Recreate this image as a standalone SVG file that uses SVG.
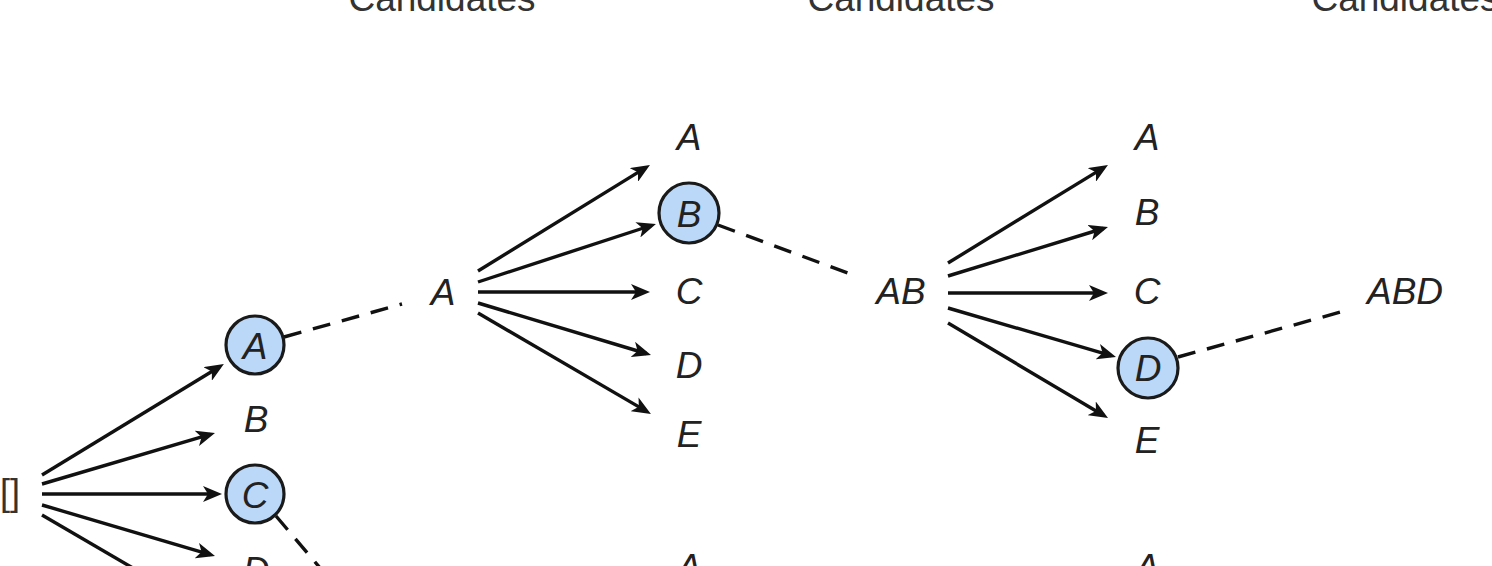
<svg xmlns="http://www.w3.org/2000/svg" width="1492" height="566" viewBox="0 0 1492 566">
<defs>
<style>
.hdr{font-family:"Liberation Sans",Arial,sans-serif;font-size:37px;fill:#333;text-anchor:middle}
.lbl{font-family:"Liberation Sans",Arial,sans-serif;font-size:37px;font-style:italic;fill:#222;text-anchor:middle}
.root{font-family:"Liberation Sans",Arial,sans-serif;font-size:36px;fill:#333}
.sel{fill:#BBD8F8;stroke:#1a1a1a;stroke-width:3.2}
.arr{stroke:#111;stroke-width:3.4;fill:none;marker-end:url(#ah)}
.dash{stroke:#111;stroke-width:3.4;fill:none;stroke-dasharray:18 12}
</style>
<marker id="ah" markerWidth="22" markerHeight="16" refX="14" refY="8" orient="auto" markerUnits="userSpaceOnUse">
<path d="M0,0 L19,8 L0,16 L5,8 z" fill="#111"/>
</marker>
</defs>
<rect width="1492" height="566" fill="#fff"/>
<g id="headers">
<text class="hdr" x="442" y="11">Candidates</text>
<text class="hdr" x="901" y="11">Candidates</text>
<text class="hdr" x="1405" y="11">Candidates</text>
</g>
<g id="connectors">
<line class="arr" x1="42" y1="475" x2="219.6" y2="366.7"/>
<line class="arr" x1="42" y1="484" x2="210.2" y2="434.4"/>
<line class="arr" x1="42" y1="494" x2="217" y2="494"/>
<line class="arr" x1="42" y1="505" x2="210.2" y2="554.6"/>
<line class="arr" x1="42" y1="515" x2="210" y2="613"/>
<line class="arr" x1="478" y1="271" x2="645.7" y2="167.6"/>
<line class="arr" x1="478" y1="282" x2="651.2" y2="225.5"/>
<line class="arr" x1="478" y1="292" x2="645" y2="292"/>
<line class="arr" x1="478" y1="303" x2="646.2" y2="353.5"/>
<line class="arr" x1="478" y1="313" x2="646.6" y2="411.4"/>
<line class="arr" x1="948" y1="263" x2="1103.7" y2="167.6"/>
<line class="arr" x1="948" y1="276" x2="1103.2" y2="228.5"/>
<line class="arr" x1="948" y1="293" x2="1103" y2="293"/>
<line class="arr" x1="948" y1="308" x2="1111.2" y2="355.6"/>
<line class="arr" x1="948" y1="323" x2="1103.7" y2="415.5"/>
<line class="dash" x1="284" y1="337" x2="402" y2="304"/>
<line class="dash" x1="276" y1="516" x2="332" y2="582"/>
<line class="dash" x1="718" y1="225" x2="853" y2="275"/>
<line class="dash" x1="1178" y1="357" x2="1348" y2="310"/>
</g>
<g id="root"><text class="root" x="0" y="505">[]</text></g>
<g id="l1-A"><circle class="sel" cx="255" cy="345" r="29"/><text class="lbl" x="255" y="359">A</text></g>
<g id="l1-B"><text class="lbl" x="256" y="432">B</text></g>
<g id="l1-C"><circle class="sel" cx="255" cy="494" r="29"/><text class="lbl" x="255" y="508">C</text></g>
<g id="l1-D"><text class="lbl" x="256" y="583">D</text></g>
<g id="p-A"><text class="lbl" x="443" y="305">A</text></g>
<g id="l2-A"><text class="lbl" x="689" y="150">A</text></g>
<g id="l2-B"><circle class="sel" cx="689" cy="213" r="30"/><text class="lbl" x="689" y="227">B</text></g>
<g id="l2-C"><text class="lbl" x="689" y="304">C</text></g>
<g id="l2-D"><text class="lbl" x="689" y="378">D</text></g>
<g id="l2-E"><text class="lbl" x="689" y="447">E</text></g>
<g id="l2b-A"><text class="lbl" x="689" y="580">A</text></g>
<g id="p-AB"><text class="lbl" x="901" y="304">AB</text></g>
<g id="l3-A"><text class="lbl" x="1147" y="150">A</text></g>
<g id="l3-B"><text class="lbl" x="1147" y="225">B</text></g>
<g id="l3-C"><text class="lbl" x="1147" y="304">C</text></g>
<g id="l3-D"><circle class="sel" cx="1148" cy="368" r="30"/><text class="lbl" x="1148" y="381">D</text></g>
<g id="l3-E"><text class="lbl" x="1147" y="453">E</text></g>
<g id="l3b-A"><text class="lbl" x="1147" y="580">A</text></g>
<g id="p-ABD"><text class="lbl" x="1405" y="304">ABD</text></g>
</svg>
